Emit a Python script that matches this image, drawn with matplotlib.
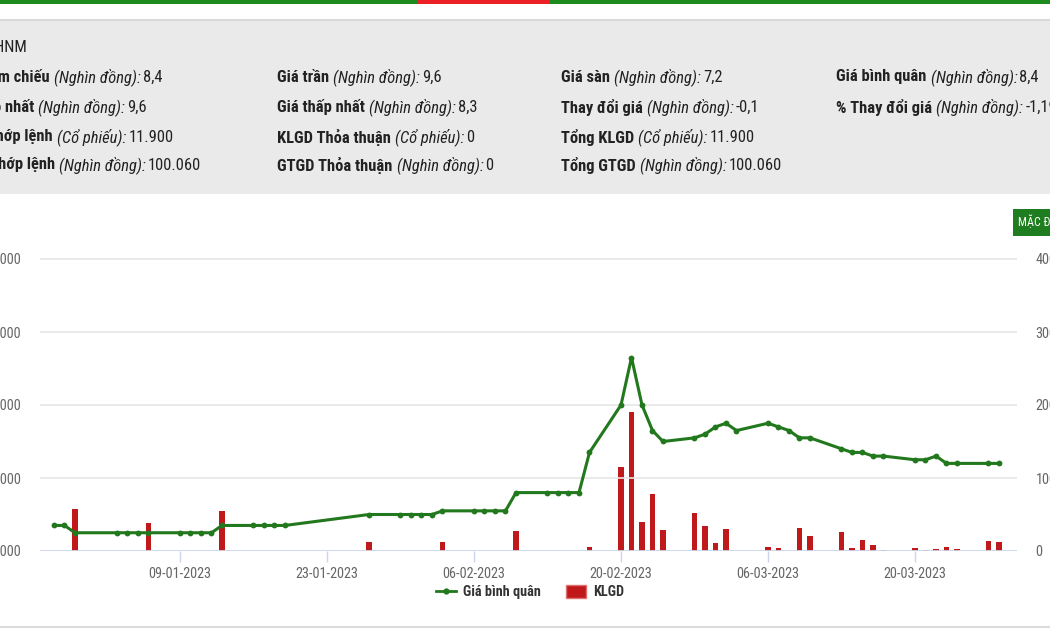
import matplotlib
matplotlib.use('Agg')
import matplotlib.pyplot as plt
import matplotlib.dates as mdates
from matplotlib import font_manager
from matplotlib.lines import Line2D
from matplotlib.patches import Rectangle, Patch
import pandas as pd

# ===============================
# Fonts
# ===============================
installed = {f.name for f in font_manager.fontManager.ttflist}
FONT = next((n for n in ['Liberation Sans Narrow', 'Roboto Condensed', 'Roboto', 'DejaVu Sans']
             if n in installed), 'DejaVu Sans')
plt.rcParams['font.family'] = [FONT, 'DejaVu Sans']

# ===============================
# Data
# ===============================
dates = pd.to_datetime([
    '2022-12-28', '2022-12-29', '2022-12-30',
    '2023-01-03', '2023-01-04', '2023-01-05', '2023-01-06',
    '2023-01-09', '2023-01-10', '2023-01-11', '2023-01-12', '2023-01-13',
    '2023-01-16', '2023-01-17', '2023-01-18', '2023-01-19',
    '2023-01-27',
    '2023-01-30', '2023-01-31', '2023-02-01', '2023-02-02', '2023-02-03',
    '2023-02-06', '2023-02-07', '2023-02-08', '2023-02-09', '2023-02-10',
    '2023-02-13', '2023-02-14', '2023-02-15', '2023-02-16', '2023-02-17',
    '2023-02-20', '2023-02-21', '2023-02-22', '2023-02-23', '2023-02-24',
    '2023-02-27', '2023-02-28', '2023-03-01', '2023-03-02', '2023-03-03',
    '2023-03-06', '2023-03-07', '2023-03-08', '2023-03-09', '2023-03-10',
    '2023-03-13', '2023-03-14', '2023-03-15', '2023-03-16', '2023-03-17',
    '2023-03-20', '2023-03-21', '2023-03-22', '2023-03-23', '2023-03-24',
    '2023-03-27', '2023-03-28',
])

# Giá bình quân (đồng)
price = [
    6700, 6700, 6500,
    6500, 6500, 6500, 6500,
    6500, 6500, 6500, 6500, 6700,
    6700, 6700, 6700, 6700,
    7000,
    7000, 7000, 7000, 7000, 7100,
    7100, 7100, 7100, 7100, 7600,
    7600, 7600, 7600, 7600, 8700,
    10000, 11300, 10000, 9300, 9000,
    9100, 9200, 9400, 9500, 9300,
    9500, 9400, 9300, 9100, 9100,
    8800, 8700, 8700, 8600, 8600,
    8500, 8500, 8600, 8400, 8400,
    8400, 8400,
]

# KLGD (cổ phiếu)
volume = [
    0, 0, 57100,
    0, 0, 0, 37900,
    0, 0, 0, 0, 55200,
    0, 0, 0, 0,
    12300,
    0, 0, 0, 0, 12300,
    0, 0, 0, 0, 27800,
    0, 0, 0, 0, 5900,
    115000, 190000, 39200, 77400, 28700,
    51500, 33700, 11400, 30500, 600,
    5900, 4600, 0, 31900, 20000,
    25500, 4600, 15000, 7700, 800,
    4600, 800, 2300, 5900, 2300,
    13200, 11900,
]

price_ticks = [6000, 8000, 10000, 12000, 14000]
volume_ticks = [0, 100000, 200000, 300000, 400000]
x_ticks = pd.to_datetime(['2023-01-09', '2023-01-23', '2023-02-06',
                          '2023-02-20', '2023-03-06', '2023-03-20'])

# header info panel
header_title = "Sàn: HNM"
header_cols = [
    [("Giá tham chiếu", "(Nghìn đồng):", "8,4"),
     ("Giá cao nhất", "(Nghìn đồng):", "9,6"),
     ("KLGD khớp lệnh", "(Cổ phiếu):", "11.900"),
     ("GTGD khớp lệnh", "(Nghìn đồng):", "100.060")],
    [("Giá trần", "(Nghìn đồng):", "9,6"),
     ("Giá thấp nhất", "(Nghìn đồng):", "8,3"),
     ("KLGD Thỏa thuận", "(Cổ phiếu):", "0"),
     ("GTGD Thỏa thuận", "(Nghìn đồng):", "0")],
    [("Giá sàn", "(Nghìn đồng):", "7,2"),
     ("Thay đổi giá", "(Nghìn đồng):", "-0,1"),
     ("Tổng KLGD", "(Cổ phiếu):", "11.900"),
     ("Tổng GTGD", "(Nghìn đồng):", "100.060")],
    [("Giá bình quân", "(Nghìn đồng):", "8,4"),
     ("% Thay đổi giá", "(Nghìn đồng):", "-1,19")],
]


def fmt(v):
    return f"{int(v):,}".replace(",", ".")


# ===============================
# Figure + background (pixel coords)
# ===============================
W, H = 1050, 630
fig = plt.figure(figsize=(W / 100, H / 100), dpi=100)
bg = fig.add_axes([0, 0, 1, 1])
bg.set_xlim(0, W)
bg.set_ylim(H, 0)
bg.axis('off')

bg.add_patch(Rectangle((0, 0), W, 3.5, color='#1d8a1d', lw=0))
bg.add_patch(Rectangle((417, 0), 132, 3.5, color='#ee2027', lw=0))
bg.add_patch(Rectangle((0, 19), W, 175, facecolor='#eaeaea', edgecolor='none'))
bg.plot([0, W], [19.5, 19.5], color='#d6d6d6', lw=1.2)
bg.plot([0, W], [627, 627], color='#dcdcdc', lw=1.5)

# "MẶC ĐỊNH" button, cut by right edge (as in the screenshot)
bg.add_patch(Rectangle((1013, 209), 60, 27, color='#1e7d1e', lw=0))
bg.text(1018, 222.5, "MẶC ĐỊNH", color='white', fontsize=8.6, va='center', ha='left')

# header text
TXT = '#222222'
fs = 11.9
row_y = [77, 107, 137, 165]
col_x = [None, 277, 561, 836]
first_col_end = [50, 34, 53, 55]

bg.text(27, 48, header_title, ha='right', va='center', fontsize=fs, color=TXT)

for ci, col in enumerate(header_cols):
    for ri, (lab, unit, val) in enumerate(col):
        y = row_y[ri]
        if ci == 0:
            t1 = bg.text(first_col_end[ri], y, lab, ha='right', va='center',
                         fontsize=fs, fontweight='bold', color=TXT)
        else:
            t1 = bg.text(col_x[ci], y, lab, ha='left', va='center',
                         fontsize=fs, fontweight='bold', color=TXT)
        t2 = bg.annotate(unit, xy=(1, y), xycoords=(t1, 'data'),
                         xytext=(3, 0), textcoords='offset points',
                         ha='left', va='center', fontsize=fs, style='italic', color=TXT)
        bg.annotate(val, xy=(1, y), xycoords=(t2, 'data'),
                    xytext=(1.5, 0), textcoords='offset points',
                    ha='left', va='center', fontsize=fs, color=TXT)

# ===============================
# Chart
# ===============================
PX_DAY = 10.5
jan9 = mdates.date2num(pd.Timestamp('2023-01-09'))
left_px, right_px, base_px, top_px = 40, 1017, 551, 240
grid_px = 73.0

ax = fig.add_axes([left_px / W, (H - base_px) / H,
                   (right_px - left_px) / W, (base_px - top_px) / H])
ax.patch.set_alpha(0)
ax2 = ax.twinx()

ax.set_xlim(jan9 - (180 - left_px) / PX_DAY, jan9 + (right_px - 180) / PX_DAY)
ax.set_ylim(6000, 6000 + (base_px - top_px) / grid_px * 2000)
ax2.set_ylim(0, (base_px - top_px) / grid_px * 100000)

# grid lines (shared positions)
for v in price_ticks[1:]:
    ax.axhline(v, color='#e6e6e6', lw=1.2, zorder=0)
ax.axhline(6000, color='#ccd6eb', lw=1.3, zorder=1)

# bars on the volume axis, line on the price axis
ax2.bar(dates, volume, width=0.48, color='#c0191b', zorder=2)
ax.set_zorder(ax2.get_zorder() + 1)
ax.plot(dates, price, color='#22781c', lw=2.2, marker='o', markersize=4.2,
        markeredgewidth=0, zorder=3)

for a in (ax, ax2):
    for s in a.spines.values():
        s.set_visible(False)

ax.set_yticks(price_ticks)
ax.set_yticklabels([fmt(v) for v in price_ticks])
ax2.set_yticks(volume_ticks)
ax2.set_yticklabels([fmt(v) for v in volume_ticks])
ax.tick_params(axis='y', length=0, pad=13.5, labelsize=10.3, labelcolor='#666666')
ax2.tick_params(axis='y', length=0, pad=13.5, labelsize=10.3, labelcolor='#666666')
for lab in ax2.get_yticklabels():
    lab.set_ha('left')

ax.set_xticks(x_ticks)
ax.set_xticklabels([d.strftime('%d-%m-%Y') for d in x_ticks])
ax.tick_params(axis='x', length=8, width=1, color='#ccd6eb', pad=3.5,
               labelsize=10.3, labelcolor='#666666')
ax2.tick_params(axis='x', length=0)

# legend
handles = [
    Line2D([], [], color='#22781c', lw=2, marker='o', markersize=3.5),
    Patch(facecolor='#c0191b', edgecolor='#e07070'),
]
fig.legend(handles, ['Giá bình quân', 'KLGD'], loc='center',
           bbox_to_anchor=(530 / W, 1 - 592 / H), ncol=2, frameon=False,
           prop={'weight': 'bold', 'size': 10.3}, labelcolor='#333333',
           handlelength=1.4, handleheight=1.0, handletextpad=0.5, columnspacing=1.8)

fig.savefig('out.png', dpi=100)
